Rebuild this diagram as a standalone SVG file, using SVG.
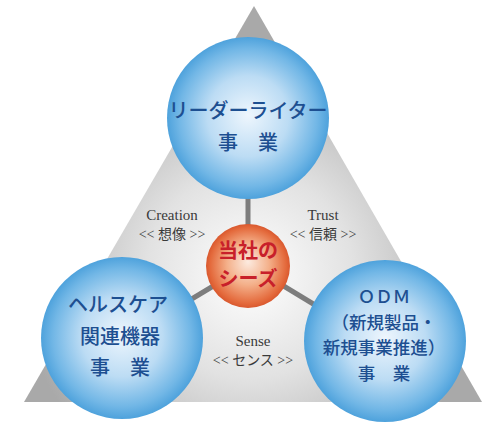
<svg xmlns="http://www.w3.org/2000/svg" width="496" height="422" viewBox="0 0 496 422">
<defs>
<radialGradient id="triG" gradientUnits="userSpaceOnUse" cx="250" cy="275" r="230">
<stop offset="0" stop-color="#ffffff"/>
<stop offset="0.45" stop-color="#e2e2e2"/>
<stop offset="1" stop-color="#a9a9a9"/>
</radialGradient>
<radialGradient id="blueG" cx="0.5" cy="0.5" r="0.5" fx="0.5" fy="0.48">
<stop offset="0" stop-color="#eef6fd"/>
<stop offset="0.5" stop-color="#bcdcf4"/>
<stop offset="0.85" stop-color="#72b7e6"/>
<stop offset="1" stop-color="#4ea2dc"/>
</radialGradient>
<radialGradient id="orG" cx="0.5" cy="0.5" r="0.5" fx="0.5" fy="0.45">
<stop offset="0" stop-color="#fcebe0"/>
<stop offset="0.5" stop-color="#f4b08a"/>
<stop offset="0.9" stop-color="#e46a3c"/>
<stop offset="1" stop-color="#d9582e"/>
</radialGradient>
<style>
.big{fill:url(#blueG)}
.bt{font-family:"Noto Sans CJK JP","Noto Sans",sans-serif;font-size:20px;font-weight:500;fill:#1d4f91;text-anchor:middle}
.rt{font-size:17.5px}
.ct{font-family:"Noto Sans CJK JP",sans-serif;font-size:20px;font-weight:700;fill:#c8202a;text-anchor:middle}
.lb{font-family:"Liberation Serif","Noto Sans CJK JP",serif;font-size:15px;fill:#3a3a3a;text-anchor:middle}
.lj{font-family:"Liberation Serif","Noto Sans CJK JP",sans-serif;font-size:14px;fill:#3a3a3a;text-anchor:middle}
.conn{stroke:#7d7d7d;stroke-width:5;fill:none}
</style>
</defs>
<polygon points="254,6 24,402 482,402" fill="url(#triG)"/>
<g id="connectors">
<line class="conn" x1="248" y1="195" x2="248" y2="230"/>
<line class="conn" x1="190" y1="300" x2="215" y2="285"/>
<line class="conn" x1="282" y1="285" x2="315" y2="305"/>
</g>
<g id="labels">
<text class="lb" x="172" y="220">Creation</text>
<text class="lj" x="172" y="239">&lt;&lt; 想像 &gt;&gt;</text>
<text class="lb" x="323" y="220">Trust</text>
<text class="lj" x="323" y="239">&lt;&lt; 信頼 &gt;&gt;</text>
<text class="lb" x="253" y="346">Sense</text>
<text class="lj" x="253" y="365">&lt;&lt; センス &gt;&gt;</text>
</g>
<g id="top">
<circle class="big" cx="248" cy="118" r="81"/>
<text class="bt" x="248" y="118">リーダーライター</text>
<text class="bt" x="248" y="150">事　業</text>
</g>
<g id="left">
<circle class="big" cx="122" cy="338" r="81"/>
<text class="bt" x="118" y="312">ヘルスケア</text>
<text class="bt" x="120" y="344">関連機器</text>
<text class="bt" x="120" y="375">事　業</text>
</g>
<g id="right">
<circle class="big" cx="385" cy="341" r="81"/>
<text class="bt rt" x="384" y="303">ＯＤＭ</text>
<text class="bt rt" x="384" y="328.5">（新規製品・</text>
<text class="bt rt" x="384" y="354">新規事業推進）</text>
<text class="bt rt" x="384" y="379.5">事　業</text>
</g>
<g id="center">
<circle cx="248" cy="266" r="42" fill="url(#orG)"/>
<text class="ct" x="248" y="258">当社の</text>
<text class="ct" x="248" y="286">シーズ</text>
</g>
</svg>
